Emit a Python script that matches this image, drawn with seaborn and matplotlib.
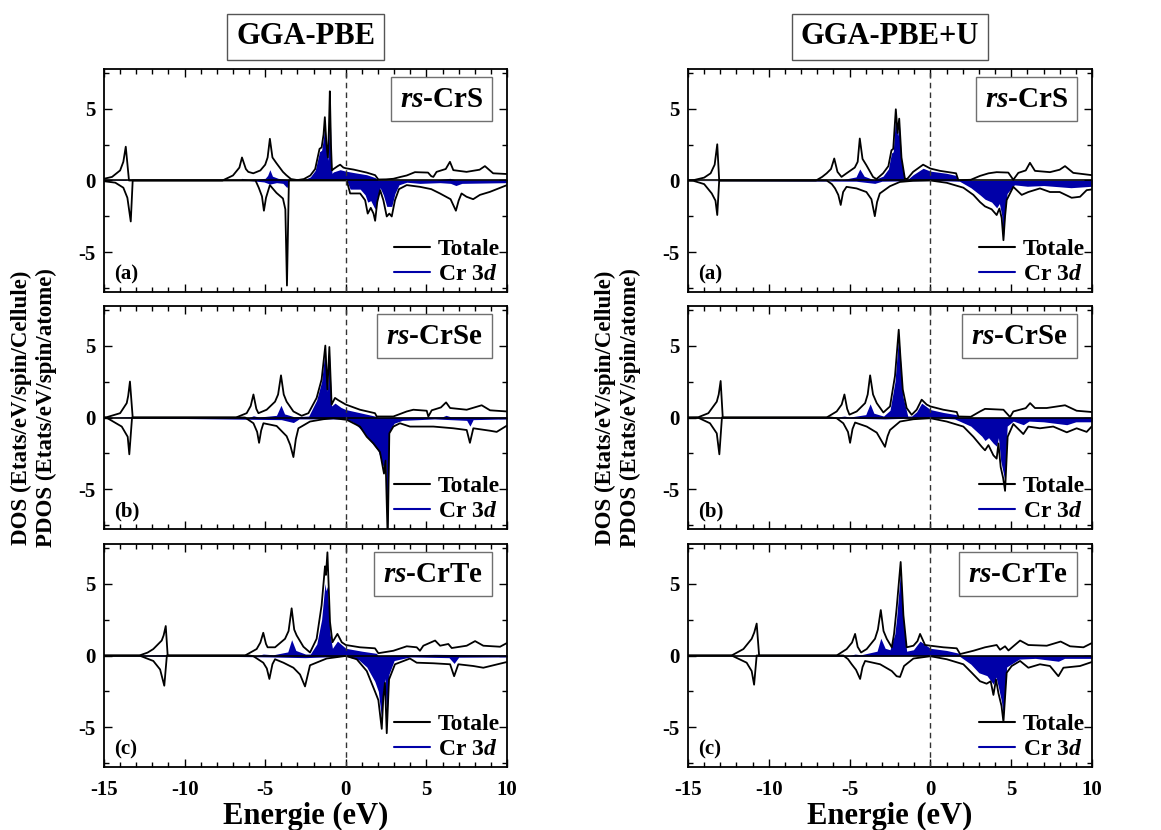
import matplotlib
matplotlib.use("Agg")
import numpy as np
import pandas as pd
import matplotlib.pyplot as plt
import seaborn as sns
from matplotlib.lines import Line2D
from matplotlib.ticker import MultipleLocator

sns.set_style("ticks")
plt.rcParams["font.family"] = ["Liberation Serif", "DejaVu Serif"]
plt.rcParams["font.weight"] = "bold"
plt.rcParams["mathtext.fontset"] = "custom"
plt.rcParams["mathtext.rm"] = "Liberation Serif:bold"
plt.rcParams["mathtext.it"] = "Liberation Serif:italic:bold"
plt.rcParams["mathtext.bf"] = "Liberation Serif:bold"
plt.rcParams["axes.unicode_minus"] = False
plt.rcParams["text.color"] = "black"
plt.rcParams["xtick.color"] = "black"
plt.rcParams["ytick.color"] = "black"
plt.rcParams["axes.labelcolor"] = "black"

BLUE = "#0000A8"

# ---------------- data: (energy eV, DOS) ----------------
# GGA-PBE, rs-CrS
pbe_crs_tot_up = [(-15,0.12),(-14.5,0.25),(-14.0,0.7),(-13.8,1.3),(-13.65,2.35),(-13.45,0),(-7.65,0),(-7.0,0.35),(-6.6,0.9),(-6.44,1.6),(-6.2,0.8),(-6.05,0.6),(-5.74,0.5),(-5.3,0.7),(-5.0,1.1),(-4.85,1.6),(-4.71,2.9),(-4.55,1.6),(-4.3,1.2),(-3.9,0.6),(-3.69,0.37),(-3.4,0.1),(-3.0,0.03),(-2.6,0.1),(-2.2,0.35),(-1.9,0.8),(-1.63,2.2),(-1.5,2.3),(-1.38,3.2),(-1.3,4.4),(-1.2,2.5),(-1.11,1.6),(-1.05,3.5),(-0.99,6.2),(-0.92,2.5),(-0.86,0.7),(-0.76,0.8),(-0.5,1.0),(-0.35,1.1),(-0.15,0.9),(0,0.85),(0.48,0.76),(1.3,0.55),(1.82,0.37),(2.02,0.07),(2.5,0.08),(2.95,0.12),(3.4,0.25),(3.78,0.35),(4.29,0.58),(5.1,0.55),(5.3,0.3),(5.43,0.25),(5.63,0.6),(6.2,0.8),(6.46,1.3),(6.67,0.72),(7.49,0.6),(8.3,0.75),(8.63,1.0),(9.14,0.5),(10,0.45)]
pbe_crs_tot_dn = [(-15,-0.05),(-14.3,-0.15),(-13.8,-0.5),(-13.55,-1.2),(-13.34,-2.85),(-13.22,0),(-5.6,0),(-5.4,-0.5),(-5.2,-1.1),(-5.08,-2.1),(-4.95,-1.2),(-4.71,-0.32),(-4.5,-0.6),(-4.3,-0.86),(-3.9,-1.25),(-3.75,-2.0),(-3.65,-7.3),(-3.53,0),(0.06,0),(0.27,-0.9),(0.89,-0.9),(1.2,-1.37),(1.36,-2.3),(1.55,-1.9),(1.72,-2.3),(1.82,-2.8),(1.95,-1.5),(2.13,-0.67),(2.33,-1.37),(2.54,-2.5),(2.7,-2.3),(2.85,-2.5),(3.05,-1.37),(3.3,-0.6),(3.78,-0.32),(4.6,-0.44),(5.3,-0.6),(5.84,-0.9),(6.5,-1.3),(6.83,-2.1),(7.0,-1.4),(7.18,-0.9),(7.49,-1.13),(7.9,-1.3),(8.32,-1.0),(8.94,-0.79),(10,-0.32)]
pbe_crs_cr_up = [(-15,0),(-13.7,0.05),(-13.45,0),(-6.6,0),(-6.44,0.15),(-6.0,0.05),(-5.0,0.15),(-4.85,0.35),(-4.71,0.75),(-4.55,0.3),(-4.2,0.15),(-3.5,0.05),(-2.6,0.05),(-2.2,0.25),(-1.9,0.7),(-1.63,2.0),(-1.5,2.1),(-1.38,3.0),(-1.3,4.2),(-1.2,2.3),(-1.11,1.4),(-1.05,3.3),(-0.99,5.9),(-0.92,2.3),(-0.86,0.5),(-0.76,0.6),(-0.35,0.75),(0,0.65),(0.5,0.55),(1.3,0.4),(1.82,0.2),(2.0,0.02),(5.63,0.05),(6.46,0.15),(6.8,0.05),(10,0.05)]
pbe_crs_cr_dn = [(-15,0),(-6.0,0),(-5.08,-0.1),(-4.71,-0.25),(-4.3,-0.15),(-3.9,-0.2),(-3.65,-0.5),(-3.53,0),(0.06,0),(0.27,-0.6),(0.89,-0.6),(1.2,-1.0),(1.36,-1.5),(1.55,-1.4),(1.82,-2.0),(1.95,-1.2),(2.13,-0.5),(2.33,-1.0),(2.54,-1.8),(2.85,-1.8),(3.05,-0.9),(3.3,-0.3),(3.78,-0.12),(4.6,-0.2),(5.84,-0.15),(6.5,-0.2),(6.83,-0.35),(7.2,-0.2),(10,-0.15)]

# GGA-PBE+U, rs-CrS
pbeu_crs_tot_up = [(-15,0),(-14.67,0.02),(-14.0,0.2),(-13.6,0.5),(-13.35,1.1),(-13.19,2.52),(-13.07,0),(-7.08,0),(-6.7,0.25),(-6.42,0.5),(-6.15,0.8),(-5.95,1.53),(-5.75,0.6),(-5.5,0.25),(-5.19,0.5),(-4.68,0.9),(-4.5,1.3),(-4.37,2.92),(-4.2,1.5),(-3.96,1.06),(-3.55,0.25),(-3.34,0.1),(-2.93,0.5),(-2.6,1.0),(-2.41,2.1),(-2.3,2.2),(-2.14,4.95),(-2.03,3.3),(-1.93,4.3),(-1.79,1.6),(-1.58,0.14),(-1.44,0.1),(-1.07,0.6),(-0.7,0.9),(-0.45,1.1),(0,0.83),(0.6,0.67),(1.59,0.5),(1.73,0.02),(2.5,0.05),(3.07,0.32),(3.6,0.5),(4.1,0.58),(4.82,0.55),(5.13,0.05),(5.44,0.53),(5.9,0.7),(6.16,1.23),(6.47,0.67),(7.4,0.58),(8.0,0.75),(8.33,1.0),(8.84,0.53),(10,0.37)]
pbeu_crs_tot_dn = [(-15,0),(-14.67,-0.02),(-14.0,-0.25),(-13.53,-0.9),(-13.3,-1.4),(-13.19,-2.4),(-13.07,0),(-6.42,0),(-6.1,-0.25),(-5.9,-0.55),(-5.7,-1.0),(-5.55,-1.7),(-5.4,-0.8),(-5.19,-0.44),(-4.57,-0.55),(-3.96,-0.8),(-3.65,-1.3),(-3.44,-2.48),(-3.3,-1.5),(-3.13,-0.9),(-2.51,-0.4),(-1.89,-0.1),(-1.07,-0.02),(0,0),(1.01,-0.16),(2.04,-0.5),(2.66,-1.0),(3.07,-1.5),(3.38,-1.8),(3.79,-2.0),(4.1,-2.4),(4.27,-1.95),(4.41,-2.6),(4.52,-4.15),(4.62,-2.5),(4.72,-1.36),(5.13,-0.44),(5.65,-1.0),(6.06,-0.8),(6.78,-0.55),(7.4,-0.8),(8.0,-0.8),(8.74,-1.2),(9.26,-1.13),(9.67,-0.67),(10,-0.62)]
pbeu_crs_cr_up = [(-15,0),(-6.2,0),(-5.95,0.12),(-5.5,0.05),(-4.6,0.25),(-4.37,0.8),(-4.1,0.3),(-3.5,0.05),(-2.93,0.3),(-2.6,0.8),(-2.41,1.9),(-2.3,2.0),(-2.14,4.7),(-2.03,3.1),(-1.93,4.1),(-1.79,1.4),(-1.6,0.1),(-1.44,0.05),(-1.07,0.4),(-0.45,0.85),(0,0.65),(1.0,0.5),(1.59,0.35),(1.73,0),(10,0.02)]
pbeu_crs_cr_dn = [(-15,0),(-4.6,-0.05),(-3.44,-0.2),(-3.0,-0.05),(0,0),(1.8,-0.05),(2.5,-0.5),(3.07,-1.0),(3.38,-1.3),(3.79,-1.5),(4.1,-1.9),(4.27,-1.6),(4.41,-2.4),(4.52,-4.0),(4.62,-2.2),(4.75,-0.9),(5.2,-0.3),(6.0,-0.4),(7.0,-0.35),(8.7,-0.5),(10,-0.4)]

# GGA-PBE, rs-CrSe
pbe_crse_tot_up = [(-15,0),(-14.83,0.02),(-14.0,0.3),(-13.59,1.0),(-13.5,1.5),(-13.39,2.5),(-13.22,0),(-6.81,0),(-6.15,0.3),(-5.9,0.8),(-5.73,1.6),(-5.55,0.6),(-5.42,0.3),(-4.91,0.54),(-4.39,1.1),(-4.2,1.6),(-4.02,2.93),(-3.85,1.6),(-3.67,1.1),(-3.25,0.42),(-2.74,0.12),(-2.32,0.3),(-1.81,1.36),(-1.5,2.65),(-1.27,5.0),(-1.14,1.95),(-1.02,4.9),(-0.88,0.9),(-0.67,1.36),(-0.46,1.2),(0,0.9),(0.88,0.54),(1.81,0.3),(1.92,0.07),(2.95,0.07),(3.78,0.42),(4.19,0.54),(5.02,0.47),(5.12,0.07),(5.33,0.5),(5.9,0.7),(6.22,1.05),(6.47,0.66),(7.5,0.54),(8.43,0.85),(8.95,0.5),(10,0.42)]
pbe_crse_tot_dn = [(-15,0),(-14.83,-0.02),(-13.9,-0.63),(-13.53,-1.34),(-13.43,-2.56),(-13.26,0),(-6.25,0),(-5.73,-0.4),(-5.5,-1.0),(-5.38,-1.76),(-5.25,-0.9),(-5.11,-0.4),(-4.29,-0.59),(-3.67,-1.3),(-3.45,-1.9),(-3.25,-2.75),(-3.1,-1.5),(-2.94,-0.75),(-2.22,-0.28),(-1.39,-0.12),(-0.77,-0.05),(0.06,-0.16),(0.88,-0.63),(1.3,-1.34),(1.71,-1.8),(2.12,-2.4),(2.37,-3.9),(2.47,-3.0),(2.6,-8.5),(2.7,-1.1),(2.95,-0.63),(3.36,-0.4),(3.98,-0.63),(5.43,-0.63),(6.67,-0.75),(7.5,-0.87),(7.7,-1.76),(7.91,-0.75),(8.95,-0.92),(9.36,-1.0),(10,-0.56)]
pbe_crse_cr_up = [(-15,0),(-13.4,0.05),(-13.2,0),(-6.0,0),(-5.73,0.12),(-5.4,0.03),(-4.3,0.15),(-4.02,0.85),(-3.8,0.25),(-3.2,0.05),(-2.3,0.1),(-1.81,1.2),(-1.5,2.5),(-1.27,4.8),(-1.14,1.8),(-1.02,4.6),(-0.88,0.8),(-0.67,1.0),(-0.3,0.7),(0,0.55),(1.0,0.3),(1.8,0.1),(2.0,0),(6.0,0.05),(6.22,0.15),(6.5,0.05),(10,0.03)]
pbe_crse_cr_dn = [(-15,0),(-4.0,-0.15),(-3.25,-0.35),(-2.9,-0.1),(0,-0.1),(0.5,-0.35),(1.0,-0.9),(1.5,-1.6),(2.0,-2.3),(2.37,-3.6),(2.47,-2.9),(2.6,-7.5),(2.7,-1.0),(3.0,-0.4),(3.5,-0.2),(5.5,-0.1),(7.5,-0.2),(7.7,-0.6),(7.9,-0.15),(10,-0.1)]

# GGA-PBE+U, rs-CrSe
pbeu_crse_tot_up = [(-15,0),(-14.36,0.02),(-13.74,0.3),(-13.22,1.1),(-13.1,1.6),(-12.98,2.54),(-12.85,0),(-6.42,0),(-5.8,0.42),(-5.49,0.9),(-5.32,1.6),(-5.15,0.6),(-5.01,0.2),(-4.56,0.42),(-4.04,1.0),(-3.88,1.6),(-3.73,2.93),(-3.55,1.6),(-3.32,1.0),(-2.91,0.35),(-2.5,0.77),(-2.19,2.9),(-1.96,6.1),(-1.86,4.3),(-1.71,1.95),(-1.47,0.66),(-1.16,0.19),(-0.85,0.54),(-0.54,1.24),(-0.23,0.9),(0,0.77),(0.8,0.54),(1.63,0.38),(1.73,0.07),(2.5,0.05),(3.07,0.42),(3.38,0.6),(4.52,0.54),(4.93,0.03),(5.13,0.42),(5.9,0.65),(6.17,1.0),(6.47,0.66),(7.2,0.66),(8.33,0.85),(9.05,0.47),(10,0.38)]
pbeu_crse_tot_dn = [(-15,0),(-14.36,-0.02),(-13.64,-0.4),(-13.22,-1.1),(-13.06,-2.56),(-12.9,0),(-6.2,0),(-5.8,-0.05),(-5.39,-0.4),(-5.1,-1.0),(-4.97,-1.76),(-4.82,-0.8),(-4.66,-0.35),(-3.94,-0.63),(-3.32,-1.05),(-2.81,-2.04),(-2.65,-1.3),(-2.5,-0.87),(-1.88,-0.28),(-1.05,-0.12),(0,-0.05),(1.01,-0.28),(2.04,-0.63),(2.66,-1.34),(3.18,-2.04),(3.38,-2.28),(3.59,-1.92),(3.9,-2.63),(4.1,-2.86),(4.21,-1.8),(4.35,-3.45),(4.5,-4.2),(4.62,-5.1),(4.78,-1.34),(5.13,-0.45),(5.75,-1.15),(6.06,-0.63),(6.78,-0.75),(7.6,-0.63),(8.44,-1.03),(9.05,-0.75),(9.67,-1.0),(10,-0.6)]
pbeu_crse_cr_up = [(-15,0),(-6.0,0),(-5.32,0.1),(-5.0,0.03),(-4.0,0.2),(-3.73,0.95),(-3.5,0.3),(-2.9,0.1),(-2.5,0.5),(-2.19,2.5),(-1.96,5.8),(-1.86,4.2),(-1.71,1.5),(-1.4,0.1),(-1.16,0.1),(-0.85,0.4),(-0.54,1.0),(0,0.55),(0.8,0.35),(1.6,0.2),(1.75,0),(10,0.02)]
pbeu_crse_cr_dn = [(-15,0),(-5.0,-0.05),(-2.81,-0.1),(0,0),(1.5,-0.1),(2.5,-0.6),(3.18,-1.3),(3.38,-1.6),(3.6,-1.4),(3.9,-1.8),(4.1,-2.0),(4.21,-1.4),(4.35,-3.0),(4.5,-3.8),(4.62,-4.5),(4.75,-0.6),(5.13,-0.25),(5.75,-0.5),(6.1,-0.25),(7.0,-0.3),(8.44,-0.5),(9.0,-0.3),(10,-0.3)]

# GGA-PBE, rs-CrTe
pbe_crte_tot_up = [(-15,0),(-12.81,0),(-12.3,0.2),(-11.94,0.45),(-11.42,1.04),(-11.3,1.4),(-11.17,2.05),(-11.05,0),(-6.25,0),(-5.53,0.45),(-5.3,0.9),(-5.12,1.58),(-4.95,0.8),(-4.85,0.57),(-4.39,0.57),(-3.77,1.16),(-3.55,1.7),(-3.36,3.28),(-3.2,1.8),(-3.05,1.4),(-2.63,0.61),(-2.22,0.21),(-1.81,1.16),(-1.5,3.5),(-1.29,6.2),(-1.23,5.6),(-1.14,7.17),(-0.98,2.33),(-0.83,0.92),(-0.52,1.5),(-0.25,0.92),(0,0.73),(0.88,0.57),(1.81,0.5),(2.02,0.16),(2.95,0.33),(3.78,0.64),(4.4,0.57),(4.6,0.33),(4.81,0.68),(5.54,1.04),(5.85,0.68),(6.36,0.8),(6.57,0.52),(7.5,0.68),(8.02,1.0),(8.53,0.68),(9.57,0.61),(10,0.87)]
pbe_crte_tot_dn = [(-15,0),(-12.81,0),(-11.94,-0.38),(-11.52,-0.97),(-11.26,-2.1),(-11.1,0),(-6.0,0),(-5.73,-0.05),(-5.12,-0.5),(-4.9,-0.9),(-4.74,-1.63),(-4.55,-0.6),(-4.39,-0.26),(-3.87,-0.5),(-3.25,-0.85),(-2.84,-1.32),(-2.53,-2.15),(-2.22,-0.68),(-1.19,-0.21),(0,-0.03),(0.68,-0.26),(1.3,-1.08),(1.81,-2.5),(2.02,-3.1),(2.23,-5.1),(2.33,-2.85),(2.43,-1.9),(2.54,-5.4),(2.68,-1.67),(3.05,-0.61),(3.98,-0.21),(4.4,-0.5),(5.43,-0.54),(6.47,-0.61),(6.72,-1.44),(6.98,-0.61),(7.91,-0.73),(8.53,-0.85),(10,-0.45)]
pbe_crte_cr_up = [(-15,0),(-11.2,0.05),(-11.05,0),(-5.5,0),(-5.12,0.1),(-4.5,0.05),(-3.6,0.25),(-3.36,1.1),(-3.1,0.35),(-2.5,0.1),(-2.2,0.1),(-1.8,0.8),(-1.5,2.5),(-1.29,5.0),(-1.23,4.5),(-1.14,4.8),(-0.98,1.5),(-0.83,0.5),(-0.52,1.0),(0,0.5),(1.0,0.3),(1.9,0.15),(2.0,0),(5.5,0.08),(10,0.03)]
pbe_crte_cr_dn = [(-15,0),(-11.26,-0.05),(-11.1,0),(-4.74,-0.1),(-2.53,-0.15),(0,-0.05),(0.8,-0.3),(1.3,-0.8),(1.8,-1.8),(2.02,-2.5),(2.23,-4.5),(2.33,-2.4),(2.43,-1.6),(2.54,-4.8),(2.68,-1.3),(3.0,-0.35),(4.0,-0.1),(6.4,-0.15),(6.72,-0.55),(7.0,-0.12),(10,-0.1)]

# GGA-PBE+U, rs-CrTe
pbeu_crte_tot_up = [(-15,0),(-12.3,0),(-11.57,0.45),(-11.06,1.16),(-10.9,1.6),(-10.75,2.22),(-10.6,0),(-5.8,0),(-5.18,0.45),(-4.85,0.9),(-4.66,1.5),(-4.5,0.6),(-4.29,0.21),(-3.94,0.45),(-3.43,1.16),(-3.25,1.8),(-3.07,3.16),(-2.9,1.7),(-2.7,1.16),(-2.39,0.57),(-2.25,1.5),(-2.09,3.28),(-1.84,6.5),(-1.67,2.8),(-1.47,0.57),(-1.05,0.68),(-0.8,1.0),(-0.64,1.5),(-0.33,0.73),(0,0.68),(0.8,0.57),(1.63,0.5),(1.84,0.1),(2.66,0.33),(3.38,0.57),(4.1,0.73),(4.31,0.4),(4.62,0.64),(4.83,0.35),(5.13,0.64),(5.55,1.04),(6.06,0.73),(7.2,0.68),(8.06,0.97),(8.64,0.64),(9.47,0.57),(10,0.87)]
pbeu_crte_tot_dn = [(-15,0),(-12.3,0),(-11.37,-0.5),(-11.06,-1.08),(-10.91,-2.03),(-10.75,0),(-5.39,0),(-5.1,-0.25),(-4.87,-0.61),(-4.6,-1.0),(-4.35,-1.63),(-4.2,-0.8),(-4.04,-0.38),(-3.11,-0.61),(-2.39,-1.08),(-2.09,-1.44),(-1.88,-1.49),(-1.63,-0.73),(-1.05,-0.21),(0,-0.05),(1.01,-0.26),(2.04,-0.61),(2.56,-1.2),(3.07,-1.79),(3.48,-1.96),(3.73,-1.79),(3.9,-2.74),(4.06,-1.67),(4.21,-2.62),(4.4,-3.5),(4.52,-4.62),(4.72,-1.2),(5.03,-0.73),(5.55,-0.38),(6.06,-0.85),(6.78,-0.61),(7.4,-0.73),(7.92,-1.44),(8.23,-0.85),(9.26,-0.73),(10,-0.45)]
pbeu_crte_cr_up = [(-15,0),(-5.0,0),(-4.66,0.1),(-4.3,0.05),(-3.3,0.3),(-3.07,1.2),(-2.8,0.5),(-2.5,0.4),(-2.2,1.5),(-2.09,2.6),(-1.84,6.0),(-1.67,2.5),(-1.47,0.3),(-1.05,0.4),(-0.64,1.0),(0,0.5),(1.0,0.35),(1.8,0.15),(1.9,0),(10,0.02)]
pbeu_crte_cr_dn = [(-15,0),(-4.35,-0.05),(0,0),(1.8,-0.05),(2.5,-0.6),(3.0,-1.2),(3.5,-1.4),(3.9,-2.0),(4.06,-1.5),(4.21,-2.2),(4.4,-3.2),(4.52,-4.2),(4.72,-0.8),(5.5,-0.25),(6.5,-0.2),(7.92,-0.4),(8.3,-0.2),(10,-0.2)]

methods = ["GGA-PBE", "GGA-PBE+U"]
compounds = ["CrS", "CrSe", "CrTe"]
panel_letters = ["(a)", "(b)", "(c)"]
x_ticks = [-15, -10, -5, 0, 5, 10]
y_ticks = [-5, 0, 5]

panels = {
    (0, 0): (pbe_crs_tot_up, pbe_crs_tot_dn, pbe_crs_cr_up, pbe_crs_cr_dn),
    (1, 0): (pbe_crse_tot_up, pbe_crse_tot_dn, pbe_crse_cr_up, pbe_crse_cr_dn),
    (2, 0): (pbe_crte_tot_up, pbe_crte_tot_dn, pbe_crte_cr_up, pbe_crte_cr_dn),
    (0, 1): (pbeu_crs_tot_up, pbeu_crs_tot_dn, pbeu_crs_cr_up, pbeu_crs_cr_dn),
    (1, 1): (pbeu_crse_tot_up, pbeu_crse_tot_dn, pbeu_crse_cr_up, pbeu_crse_cr_dn),
    (2, 1): (pbeu_crte_tot_up, pbeu_crte_tot_dn, pbeu_crte_cr_up, pbeu_crte_cr_dn),
}

W, H = 1161, 830
fig = plt.figure(figsize=(W / 100, H / 100), dpi=100)
col_left = [104, 688]
col_width = [403, 404]
row_top = [69, 306, 544]
row_h = 223


def to_df(pts):
    return pd.DataFrame(pts, columns=["E", "dos"])


for (r, c), (tu, td, cu, cd) in panels.items():
    ax = fig.add_axes([col_left[c] / W, 1 - (row_top[r] + row_h) / H,
                       col_width[c] / W, row_h / H])
    for pts in (cu, cd):
        d = to_df(pts)
        ax.fill_between(d["E"], 0, d["dos"], color=BLUE, lw=0, zorder=1)
    for pts in (tu, td):
        d = to_df(pts)
        sns.lineplot(data=d, x="E", y="dos", ax=ax, color="black", lw=1.3,
                     estimator=None, sort=False, legend=False, zorder=2)
    ax.axhline(0, color="black", lw=1.2, zorder=3)
    ax.axvline(0, color="#333333", lw=1.0, ls=(0, (4, 3)), zorder=3)
    ax.set_xlim(-15, 10)
    ax.set_ylim(-7.75, 7.75)
    ax.set_xticks(x_ticks)
    ax.set_yticks(y_ticks)
    ax.xaxis.set_minor_locator(MultipleLocator(1))
    ax.yaxis.set_minor_locator(MultipleLocator(2.5))
    ax.tick_params(which="both", direction="in", top=True, right=True,
                   color="black", width=1.0, labelsize=15)
    ax.tick_params(axis="x", which="major", pad=9)
    ax.tick_params(axis="y", which="major", pad=6)
    ax.tick_params(which="major", length=6)
    ax.tick_params(which="minor", length=3.5)
    for s in ax.spines.values():
        s.set_color("black")
        s.set_linewidth(1.3)
    ax.set_ylabel("")
    if r < 2:
        ax.set_xticklabels([])
        ax.set_xlabel("")
    else:
        ax.set_xlabel("Energie (eV)", fontsize=22, fontweight="bold", labelpad=2)
    for lab in ax.get_xticklabels() + ax.get_yticklabels():
        lab.set_fontweight("bold")

    ax.text(0.94, 0.925, r"$\mathit{rs}$-" + compounds[r], transform=ax.transAxes,
            ha="right", va="top", fontsize=21, fontweight="bold", zorder=5,
            bbox=dict(boxstyle="square,pad=0.3", fc="white", ec="#707070", lw=1.0))
    ax.text(0.025, 0.035, panel_letters[r], transform=ax.transAxes,
            ha="left", va="bottom", fontsize=15, fontweight="bold", zorder=5)
    handles = [Line2D([], [], color="black", lw=1.5), Line2D([], [], color=BLUE, lw=1.5)]
    ax.legend(handles, ["Totale", r"Cr 3$\mathit{d}$"], loc="lower right",
              frameon=False, prop={"size": 17, "weight": "bold"},
              handlelength=1.5, handletextpad=0.35, labelspacing=0.15,
              borderaxespad=0.15, borderpad=0.15)

for c in range(2):
    cx = (col_left[c] + col_width[c] / 2) / W
    fig.text(cx, 1 - 37 / H, methods[c], ha="center", va="center", fontsize=22,
             fontweight="bold",
             bbox=dict(boxstyle="square,pad=0.28", fc="white", ec="#555555", lw=1.0))
    fig.text((col_left[c] - 70) / W, 1 - 408 / H,
             "DOS (Etats/eV/spin/Cellule)\nPDOS (Etats/eV/spin/atome)",
             rotation=90, ha="center", va="center", multialignment="center",
             fontsize=16.5, fontweight="bold", linespacing=1.2)

fig.savefig("out.png", dpi=100)
